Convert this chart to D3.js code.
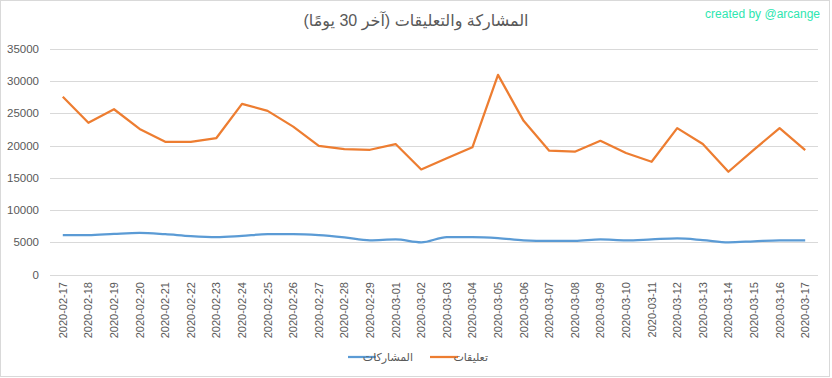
<!DOCTYPE html>
<html>
<head>
<meta charset="utf-8">
<script src="https://cdnjs.cloudflare.com/ajax/libs/d3/7.8.5/d3.min.js"></script>
<style>
  body { margin: 0; background: #fff; }
  text { font-family: "Liberation Sans", "DejaVu Sans", sans-serif; }
</style>
</head>
<body>
<div id="chart-area"></div>
<script>
// Data
var dates = ["2020-02-17","2020-02-18","2020-02-19","2020-02-20","2020-02-21","2020-02-22","2020-02-23",
  "2020-02-24","2020-02-25","2020-02-26","2020-02-27","2020-02-28","2020-02-29","2020-03-01","2020-03-02",
  "2020-03-03","2020-03-04","2020-03-05","2020-03-06","2020-03-07","2020-03-08","2020-03-09","2020-03-10",
  "2020-03-11","2020-03-12","2020-03-13","2020-03-14","2020-03-15","2020-03-16","2020-03-17"];

var posts = [6100, 6100, 6300, 6450, 6250, 5950, 5800, 6000, 6250, 6250, 6100, 5750, 5300, 5450, 5000,
  5800, 5800, 5650, 5300, 5200, 5200, 5450, 5300, 5450, 5600, 5350, 5000, 5150, 5300, 5300];

var comments = [27600, 23550, 25650, 22600, 20600, 20600, 21180, 26480, 25400, 22950, 19950, 19470, 19360, 20250, 16300,
  18050, 19750, 30980, 23850, 19220, 19060, 20750, 18860, 17500, 22720, 20250, 15950, 19380, 22730, 19320];

var yTicks = [0, 5000, 10000, 15000, 20000, 25000, 30000, 35000];

var title = "المشاركة والتعليقات (آخر 30 يومًا)";
var seriesNames = ["المشاركات", "تعليقات"];
var colors = ["#5b9bd5", "#ed7d31"];

var W = 832, H = 378;

var svg = d3.select("#chart-area")
    .append("svg")
    .attr("width", W)
    .attr("height", H);

// chart border
svg.append("rect")
    .attr("x", 0.5).attr("y", 0.5)
    .attr("width", W - 3).attr("height", H - 2)
    .attr("fill", "#fff")
    .attr("stroke", "#d9d9d9");

// SCALES
var x = d3.scaleBand()
    .domain(dates)
    .range([50, 818]);

var y = d3.scaleLinear()
    .domain([0, 35000])
    .range([274.5, 49]);

// gridlines
svg.append("g")
    .selectAll("line")
    .data(yTicks)
    .enter()
    .append("line")
    .attr("x1", 50).attr("x2", 818)
    .attr("y1", (d) => Math.round(y(d)) + 0.5)
    .attr("y2", (d) => Math.round(y(d)) + 0.5)
    .attr("stroke", "#d9d9d9")
    .attr("stroke-width", 1);

// y labels
svg.append("g")
    .selectAll("text")
    .data(yTicks)
    .enter()
    .append("text")
    .attr("x", 39)
    .attr("y", (d) => y(d) + 4)
    .attr("text-anchor", "end")
    .attr("font-size", "11.5px")
    .attr("fill", "#595959")
    .text((d) => d);

// x labels (rotated)
svg.append("g")
    .selectAll("text")
    .data(dates)
    .enter()
    .append("text")
    .attr("transform", (d) => "translate(" + (x(d) + x.bandwidth() / 2 + 4) + ",282) rotate(-90)")
    .attr("text-anchor", "end")
    .attr("font-size", "11px")
    .attr("fill", "#595959")
    .text((d) => d);

// lines
var lineStraight = d3.line()
    .x((d, i) => x(dates[i]) + x.bandwidth() / 2)
    .y((d) => y(d));

var lineSmooth = d3.line()
    .x((d, i) => x(dates[i]) + x.bandwidth() / 2)
    .y((d) => y(d))
    .curve(d3.curveMonotoneX);

svg.append("path")
    .attr("d", lineSmooth(posts))
    .attr("fill", "none")
    .attr("stroke", colors[0])
    .attr("stroke-width", 2.25)
    .attr("stroke-linejoin", "round");

svg.append("path")
    .attr("d", lineStraight(comments))
    .attr("fill", "none")
    .attr("stroke", colors[1])
    .attr("stroke-width", 2.25)
    .attr("stroke-linejoin", "round");

// title
svg.append("text")
    .attr("x", 416)
    .attr("y", 26)
    .attr("text-anchor", "middle")
    .attr("font-size", "16px")
    .attr("fill", "#595959")
    .attr("font-family", "DejaVu Sans, sans-serif")
    .text(title);

// watermark
svg.append("text")
    .attr("x", 820)
    .attr("y", 18)
    .attr("text-anchor", "end")
    .attr("font-size", "12px")
    .attr("fill", "#2ee6b0")
    .attr("font-family", "DejaVu Sans, sans-serif")
    .text("created by @arcange");

// legend
var legendItems = [
    { name: seriesNames[0], color: colors[0], x1: 348, x2: 376, tx: 413 },
    { name: seriesNames[1], color: colors[1], x1: 430, x2: 458, tx: 488 }
];
var lg = svg.append("g").selectAll("g").data(legendItems).enter().append("g");
lg.append("line")
    .attr("x1", (d) => d.x1).attr("x2", (d) => d.x2)
    .attr("y1", 357).attr("y2", 357)
    .attr("stroke", (d) => d.color)
    .attr("stroke-width", 2.25);
lg.append("text")
    .attr("x", (d) => d.tx)
    .attr("y", 361)
    .attr("text-anchor", "end")
    .attr("font-size", "11px")
    .attr("fill", "#595959")
    .text((d) => d.name);
</script>
</body>
</html>
